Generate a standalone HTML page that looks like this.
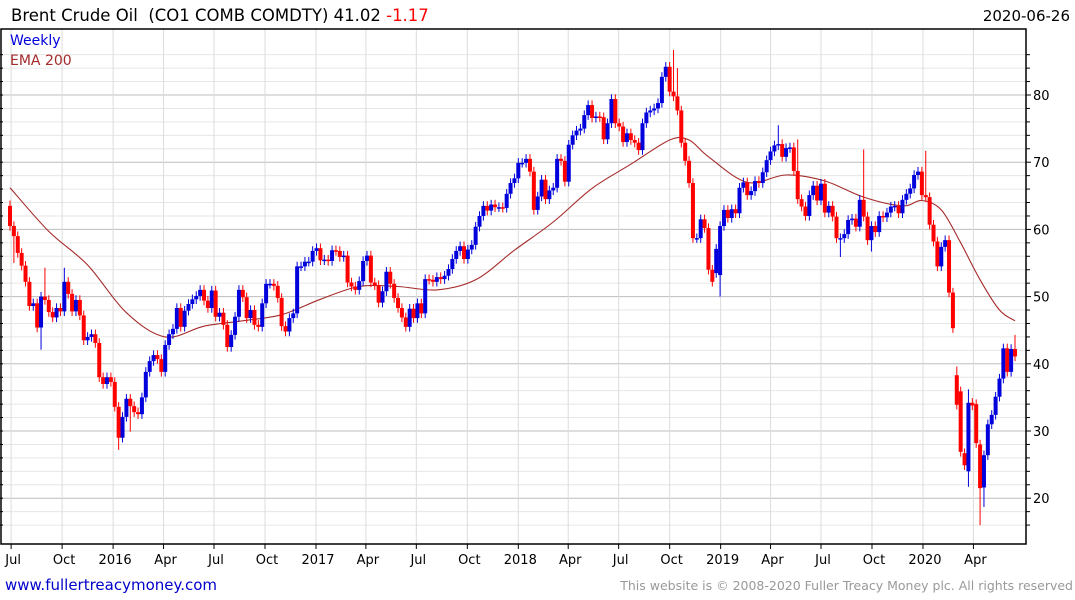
<!DOCTYPE html>
<html><head><meta charset="utf-8"><style>
body{margin:0;background:#fff;width:1075px;height:600px;overflow:hidden;font-family:"DejaVu Sans","Liberation Sans",sans-serif}
svg{position:absolute;left:0;top:0}
</style></head><body>
<svg id="chart" width="1075" height="600">
<text x="11" y="21" font-size="16.5" fill="#000">Brent Crude Oil&#160; (CO1 COMB COMDTY) 41.02 <tspan fill="#f00">-1.17</tspan></text>
<text x="1070" y="21" font-size="15" text-anchor="end" fill="#000">2020-06-26</text>
<g id="grid"></g>
<g id="ema"></g>
<g id="candles"></g>
<g id="axes"></g>
<text x="10" y="45" font-size="14" fill="#0000dd">Weekly</text>
<text x="10" y="65" font-size="14" fill="#a52a2a">EMA 200</text>
<text x="5" y="590" font-size="15" fill="#0000cc">www.fullertreacymoney.com</text>
<text x="1073" y="590" font-size="12.5" fill="#999" text-anchor="end">This website is © 2008-2020 Fuller Treacy Money plc. All rights reserved</text>
</svg>
<script>
const firstOpen = 63.5;
const closes = [60.5,59.0,56.5,54.6,52.2,48.6,49,45.4,50,49.5,47.7,46.9,48.3,47.8,52.2,50.4,47.8,49.5,47.2,43.5,44,44.4,43.1,38,37,38,37.3,33.6,29,32.1,34.8,33.7,32.8,32.5,35,38.8,40.4,41.3,40.7,38.8,42.8,44.4,45.2,48.3,45.5,47.9,48.9,49.6,50.1,51,49.4,48.3,
50.9,47,47.6,45.8,42.5,44.3,47,51,49.9,46.8,48,45.8,45.5,49,51.9,51.9,51.6,49.8,45.6,44.8,46.8,47.5,54.5,54.5,55.2,55.2,56.8,57.2,55.4,55.5,55.3,56.9,56.8,55.9,56.1,52.1,51.5,51,52.3,55.3,56.1,52.1,51.7,49.1,50.8,53.7,51.9,49.8,48.3,46.9,45.5,48.2,46.8,49,47.5,52.6,52.5,52.2,52.9,52.6,53.1,54.1,55.6,56.8,57.5,55.6,57,
57.7,60.4,62,63.5,62.8,63.7,63.3,63.3,63.2,65.3,66.9,67.6,69.9,69.9,70.5,68.6,62.9,64.9,67.4,64.5,65.8,66.2,70.5,70.2,67.1,72.6,74,74.7,75,77,78.5,76.6,76.8,76.7,73.4,75.8,79.4,75.8,75.3,73,74.3,73.3,72.9,71.8,75.8,77.4,77.7,78,78.8,82.7,84.2,80.5,79.8,77.7,72.9,70.2,66.9,58.7,58.7,61.5,60.2,54,52.2,57.1,
60.5,62.9,61.7,63,62.4,66.2,67,65.1,65.7,67.2,66.9,68.5,70.3,71.6,72.5,72.7,70.8,72.1,72.2,68.7,64.5,63.4,62,65.1,66.5,64.3,66.8,62.5,63.5,61.9,58.7,58.7,59.3,61.4,61.6,60.4,64.4,61.9,58.4,60.5,59.6,62,61.8,62.5,63.4,63.5,62.4,64.4,65.3,66.1,68.1,68.6,65.1,64.8,60.7,58.2,54.5,57.4,58.4,50.6,45.3,
33.9,26.9,24.9,34.2,33.8,28.2,21.5,26.4,31,32.4,35.1,37.8,42.3,38.8,42.2,41.1];
const gapIdx  = [182,183,244,245,246,247,249,250,251];
const gapOpen = [53.5,53.2,38.3,35.9,26.7,24.0,34.0,28.0,21.6];
const wickIdx = [0,1,8,9,14,28,31,171,172,183,198,203,214,220,222,236,244,247,250,251,259];
const wickHi  = [64.3,null,null,54.3,54.3,null,null,86.7,84.0,null,75.5,73.4,null,71.9,null,71.7,39.6,36.2,null,null,44.3];
const wickLo  = [null,55.0,42.1,null,null,27.2,29.9,null,null,50.0,null,null,55.9,null,56.7,null,null,21.7,15.98,18.7,null];
const emaIdx = [0,10,20,30,40,50,60,70,80,90,100,110,120,130,140,150,160,170,175,180,190,200,210,220,230,235,240,245,250,255,259];
const emaVal = [66.2,59.7,54.7,47.6,44,45.6,46.4,47.3,49.6,51.5,51.5,51,52.5,56.9,61.1,66.1,69.7,73.3,73.3,70.8,67,68.1,67.2,64.8,63.5,64.3,62.9,58,52.5,48,46.4];
const yTicks = [20,30,40,50,60,70,80];
const xTickLabels = ["Jul","Oct","2016","Apr","Jul","Oct","2017","Apr","Jul","Oct","2018","Apr","Jul","Oct","2019","Apr","Jul","Oct","2020","Apr"];
const xTickDates = ["2015-07-01","2015-10-01","2016-01-01","2016-04-01","2016-07-01","2016-10-01","2017-01-01","2017-04-01","2017-07-01","2017-10-01","2018-01-01","2018-04-01","2018-07-01","2018-10-01","2019-01-01","2019-04-01","2019-07-01","2019-10-01","2020-01-01","2020-04-01"];

const NS="http://www.w3.org/2000/svg";
const L=1,R=1026,T=29,B=544;
const step=(1015-10)/(closes.length-1);
const X=i=>10+i*step;
const Y=p=>95+(80-p)*6.72;
const base=Date.UTC(2015,5,29);
const XD=s=>{const d=s.split('-');return X((Date.UTC(+d[0],d[1]-1,+d[2])-base)/86400000/7);};
function mk(tag,attrs,parent){const e=document.createElementNS(NS,tag);for(const k in attrs)e.setAttribute(k,attrs[k]);parent.appendChild(e);return e;}
const grid=document.getElementById('grid'),axes=document.getElementById('axes'),cg=document.getElementById('candles'),eg=document.getElementById('ema');

for(let p=16;p<=86;p+=2){
  const y=Y(p); if(y<T||y>B)continue;
  const major=p%10===0;
  const ln=mk('line',{x1:L,x2:R,y1:y,y2:y,stroke:major?'#bdbdbd':'#e6e6e6','stroke-width':1},grid);
  
  
  const tk=mk('line',{x1:R,x2:R+(major?5:4),y1:y,y2:y,stroke:'#000'},axes);
  
  
  const tl=mk('line',{x1:L-1,x2:L+2,y1:y,y2:y,stroke:'#000'},axes);
  
  
}
yTicks.forEach(v=>{
  const t=mk('text',{x:1033,y:Y(v)+5,'font-size':13,fill:'#000'},axes);
  t.textContent=v;
  
  
});
xTickDates.forEach((d,k)=>{
  const x=XD(d);
  const g=mk('line',{x1:x,x2:x,y1:T,y2:B,stroke:'#dcdcdc'},grid);
  
  
  const tk=mk('line',{x1:x,x2:x,y1:B,y2:B+5,stroke:'#000'},axes);
  
  
  const t=mk('text',{x:x+2,y:564,'font-size':13,'text-anchor':'middle',fill:'#000'},axes);
  t.textContent=xTickLabels[k];
  
  
});
const fr=mk('path',{d:`M${L},${T}H${R}V${B}H${L}Z`,fill:'none',stroke:'#000','stroke-width':1.5},axes);



// smooth EMA via Catmull-Rom
const ep=emaIdx.map((i,k)=>[X(i),Y(emaVal[k])]);
let d=`M${ep[0][0]},${ep[0][1]}`;
for(let k=0;k<ep.length-1;k++){
  const p0=ep[Math.max(0,k-1)],p1=ep[k],p2=ep[k+1],p3=ep[Math.min(ep.length-1,k+2)];
  const c1=[p1[0]+(p2[0]-p0[0])/6,p1[1]+(p2[1]-p0[1])/6];
  const c2=[p2[0]-(p3[0]-p1[0])/6,p2[1]-(p3[1]-p1[1])/6];
  d+=` C${c1[0].toFixed(1)},${c1[1].toFixed(1)} ${c2[0].toFixed(1)},${c2[1].toFixed(1)} ${p2[0].toFixed(1)},${p2[1].toFixed(1)}`;
}
const pl=mk('path',{d:d,fill:'none',stroke:'#a52a2a','stroke-width':1.1},eg);



closes.forEach((c,i)=>{
  let o=i===0?firstOpen:closes[i-1];
  const g=gapIdx.indexOf(i); if(g>=0)o=gapOpen[g];
  let hi=Math.max(o,c)+0.7,lo=Math.min(o,c)-0.7;
  const w=wickIdx.indexOf(i);
  if(w>=0){if(wickHi[w]!=null)hi=wickHi[w];if(wickLo[w]!=null)lo=wickLo[w];}
  const col=c>=o?'#0000dd':'#ff0000';
  const x=X(i);
  const wk=mk('line',{x1:x,x2:x,y1:Y(hi),y2:Y(lo),stroke:col,'stroke-width':1},cg);
  
  
  const yt=Y(Math.max(o,c)),yb=Y(Math.min(o,c));
  const bd=mk('rect',{x:x-2,y:yt,width:4,height:Math.max(1.5,yb-yt),fill:col},cg);
  
  
});
</script>
</body></html>
